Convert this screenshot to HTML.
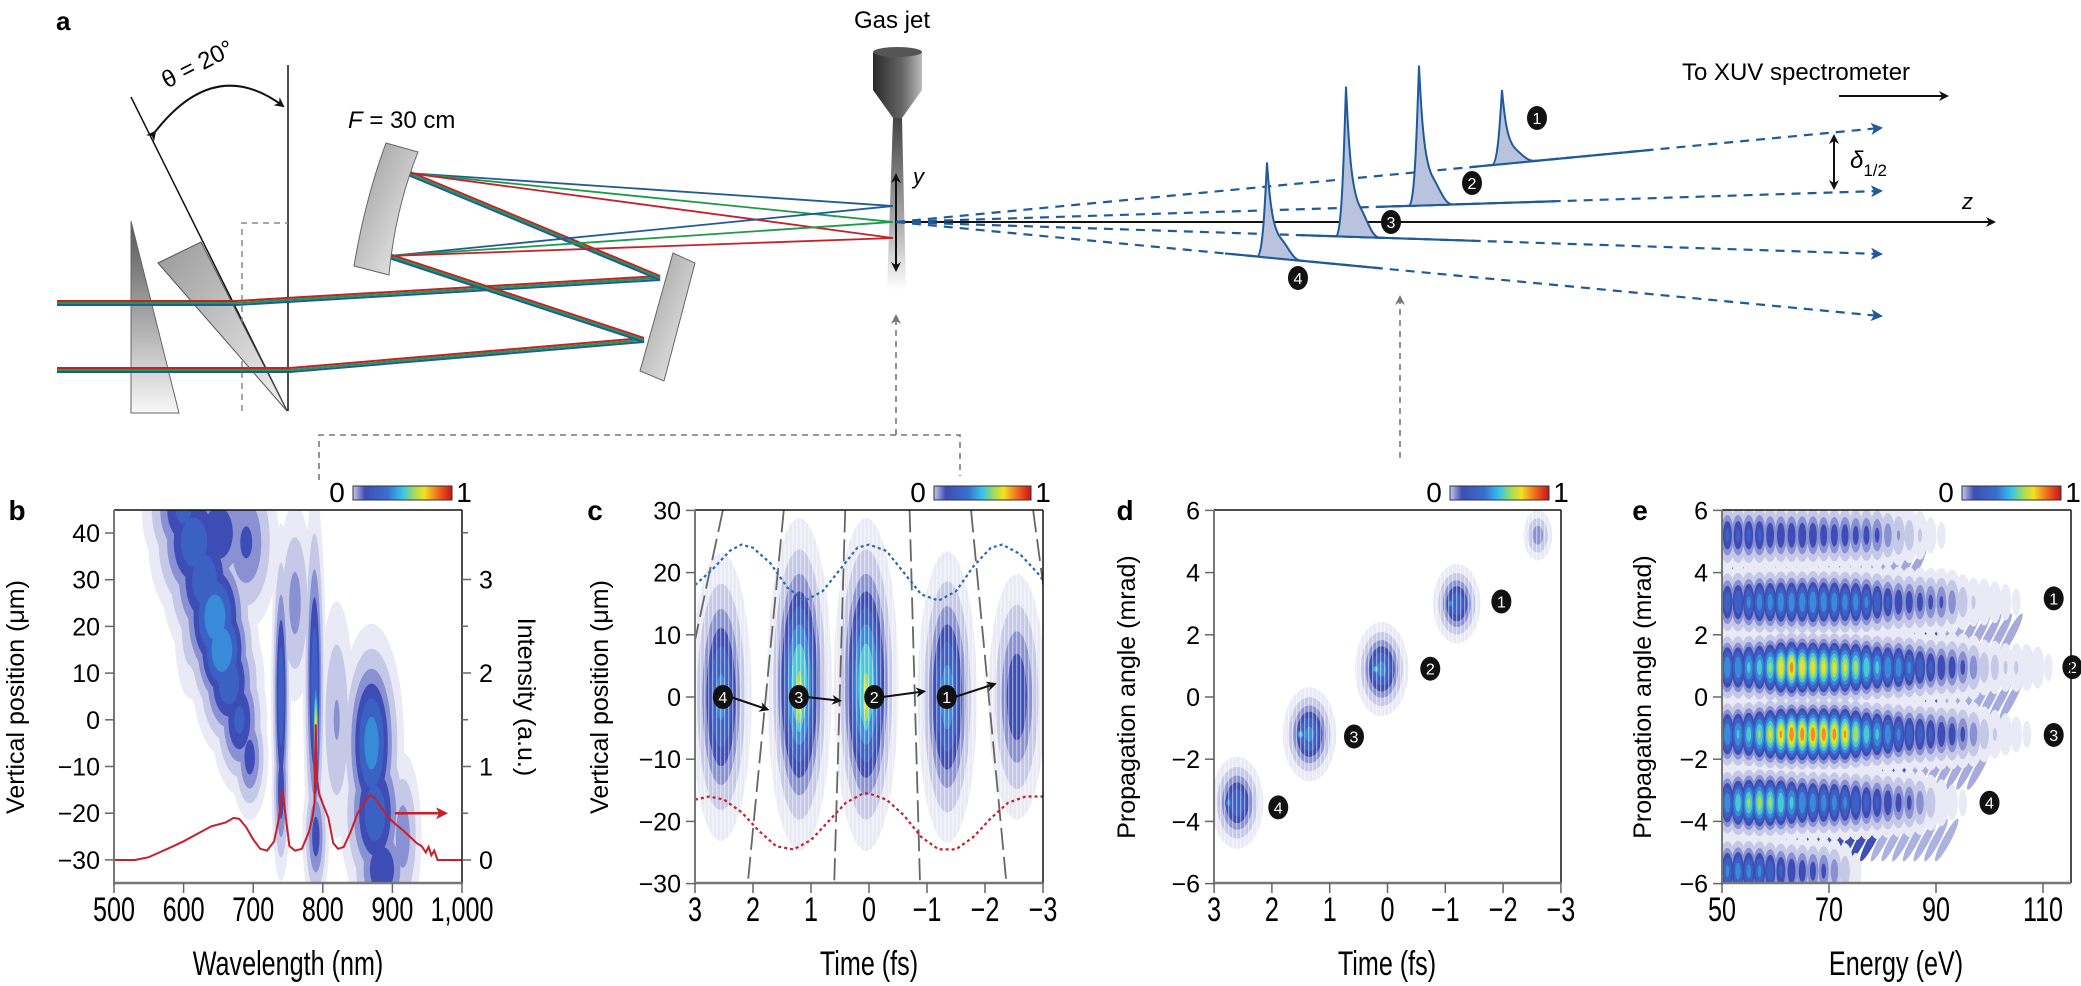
<!DOCTYPE html>
<html><head><meta charset="utf-8"><style>
html,body{margin:0;padding:0;background:#fff;}
svg{display:block;font-family:"Liberation Sans",sans-serif;}
</style></head><body>
<svg id="fig" width="2081" height="986" viewBox="0 0 2081 986" xmlns="http://www.w3.org/2000/svg">
<defs>
<linearGradient id="cbar" x1="0" x2="1" y1="0" y2="0">
<stop offset="0" stop-color="#c8c8e8"/><stop offset="0.12" stop-color="#3d4db5"/><stop offset="0.35" stop-color="#3a6fd0"/><stop offset="0.5" stop-color="#35c4ec"/><stop offset="0.62" stop-color="#a5dc5a"/><stop offset="0.72" stop-color="#f3e21e"/><stop offset="0.88" stop-color="#f05a1e"/><stop offset="1" stop-color="#c81414"/>
</linearGradient>
<linearGradient id="gray1" x1="0" x2="0" y1="0" y2="1"><stop offset="0" stop-color="#555"/><stop offset="1" stop-color="#f8f8f8"/></linearGradient>
<linearGradient id="gray2" x1="0" x2="1" y1="0" y2="1"><stop offset="0" stop-color="#999"/><stop offset="1" stop-color="#f2f2f2"/></linearGradient>
<linearGradient id="nozzle" x1="0" x2="1"><stop offset="0" stop-color="#2a2a2a"/><stop offset="0.6" stop-color="#666"/><stop offset="1" stop-color="#bbb"/></linearGradient>
<linearGradient id="jet" x1="0" x2="0" y1="0" y2="1"><stop offset="0" stop-color="#444"/><stop offset="0.6" stop-color="#aaa"/><stop offset="1" stop-color="#fff"/></linearGradient>
<pattern id="stripes" width="4" height="10" patternUnits="userSpaceOnUse"><rect x="0" y="0" width="1.3" height="10" fill="#fff" opacity="0.45"/></pattern>
<clipPath id="clipB"><rect x="114" y="510" width="348" height="373"/></clipPath>
<clipPath id="clipC"><rect x="695" y="510" width="348" height="373"/></clipPath>
<clipPath id="clipD"><rect x="1214" y="510" width="347" height="373"/></clipPath>
<clipPath id="clipE"><rect x="1722" y="510" width="349" height="373"/></clipPath>
<marker id="ah" markerWidth="10" markerHeight="10" refX="8" refY="5" orient="auto" markerUnits="userSpaceOnUse"><path d="M0,0 L10,5 L0,10 L3,5 Z" fill="#111"/></marker>
<marker id="ahb" markerWidth="12" markerHeight="12" refX="9" refY="6" orient="auto" markerUnits="userSpaceOnUse"><path d="M0,0 L12,6 L0,12 L3,6 Z" fill="#1f5a9a"/></marker>
<marker id="ahg" markerWidth="10" markerHeight="10" refX="8" refY="5" orient="auto" markerUnits="userSpaceOnUse"><path d="M0,0 L10,5 L0,10 L3,5 Z" fill="#777"/></marker>
<marker id="ahr" markerWidth="12" markerHeight="12" refX="9" refY="6" orient="auto" markerUnits="userSpaceOnUse"><path d="M0,0 L12,6 L0,12 L3,6 Z" fill="#c8202a"/></marker>
</defs>

<!-- ================= PANEL A ================= -->
<g>
<text x="56" y="30" font-size="26" font-weight="bold">a</text>
<text x="892" y="28" font-size="24" text-anchor="middle">Gas jet</text>
<g>
<rect x="873" y="52" width="49" height="38" fill="url(#nozzle)"/>
<ellipse cx="897.5" cy="52" rx="24.5" ry="5" fill="#555"/>
<path d="M873,90 L922,90 L902,118 L893,118 Z" fill="url(#nozzle)"/>
<path d="M893,118 L902,118 L906,290 L887,290 Z" fill="url(#jet)"/>
</g>
<g>
<line x1="131" y1="97" x2="287" y2="411" stroke="#111" stroke-width="1.5"/>
<line x1="288" y1="65" x2="288" y2="411" stroke="#111" stroke-width="1.5"/>
<path d="M155,132 Q215,55 283,106" fill="none" stroke="#111" stroke-width="2" marker-start="url(#ah)" marker-end="url(#ah)"/>
<text x="198" y="72" font-size="24" text-anchor="middle" transform="rotate(-27 198 65)">θ = 20°</text>
<path d="M242,411 L242,223 L288,223" fill="none" stroke="#888" stroke-width="1.5" stroke-dasharray="6,5"/>
</g>
<g><path d="M131,221 L179,413 L131,413 Z" fill="url(#gray1)" stroke="#666" stroke-width="1"/></g>
<g><path d="M158,263 L201,242 L287,411 Z" fill="url(#gray2)" stroke="#555" stroke-width="1"/></g>
<g>
<line x1="57" y1="301" x2="236" y2="301" stroke="#c8202a" stroke-width="2"/><line x1="57" y1="303" x2="236" y2="303" stroke="#1e9a4a" stroke-width="2"/><line x1="57" y1="305" x2="236" y2="305" stroke="#1f5a9a" stroke-width="2"/>
<line x1="57" y1="368" x2="290" y2="368" stroke="#c8202a" stroke-width="2"/><line x1="57" y1="370" x2="290" y2="370" stroke="#1e9a4a" stroke-width="2"/><line x1="57" y1="372" x2="290" y2="372" stroke="#1f5a9a" stroke-width="2"/>
</g>
<g fill="none" stroke-width="2">
<polyline points="236,301 660,276 408,171" stroke="#c8202a"/><polyline points="236,303 660,278 408,173" stroke="#1e9a4a"/><polyline points="236,305 660,280 408,175" stroke="#1f5a9a"/>
<polyline points="290,368 644,338 389,254" stroke="#c8202a"/><polyline points="290,370 644,340 389,256" stroke="#1e9a4a"/><polyline points="290,372 644,342 389,258" stroke="#1f5a9a"/>
</g>
<g fill="none" stroke-width="1.8">
<line x1="408" y1="173" x2="893" y2="206" stroke="#1f5a9a"/><line x1="408" y1="173" x2="893" y2="222" stroke="#1e9a4a"/><line x1="408" y1="173" x2="893" y2="238" stroke="#c8202a"/>
<line x1="389" y1="256" x2="893" y2="206" stroke="#1f5a9a"/><line x1="389" y1="256" x2="893" y2="222" stroke="#1e9a4a"/><line x1="389" y1="256" x2="893" y2="238" stroke="#c8202a"/>
</g>
<g><path d="M386,143 L418,152 Q395,210 389,275 L354,266 Q365,200 386,143 Z" fill="url(#gray2)" stroke="#666"/></g>
<g><path d="M673,253 L695,263 L664,381 L640,371 Z" fill="url(#gray2)" stroke="#666"/></g>
<text x="348" y="128" font-size="24"><tspan font-style="italic">F</tspan> = 30 cm</text>
<g>
<line x1="896" y1="222" x2="896" y2="175" stroke="#111" stroke-width="2" marker-end="url(#ah)"/>
<line x1="896" y1="222" x2="896" y2="270" stroke="#111" stroke-width="2" marker-end="url(#ah)"/>
<text x="913" y="184" font-size="22" font-style="italic">y</text>
</g>
<g>
<line x1="896" y1="222" x2="1994" y2="222" stroke="#111" stroke-width="2" marker-end="url(#ah)"/>
<text x="1962" y="209" font-size="22" font-style="italic">z</text>
</g>
<text x="1796" y="80" font-size="24" text-anchor="middle">To XUV spectrometer</text>
<line x1="1839" y1="96" x2="1947" y2="96" stroke="#111" stroke-width="2" marker-end="url(#ah)"/>
<g>
<line x1="1834" y1="160" x2="1834" y2="136" stroke="#111" stroke-width="2" marker-end="url(#ah)"/>
<line x1="1834" y1="160" x2="1834" y2="188" stroke="#111" stroke-width="2" marker-end="url(#ah)"/>
<text x="1850" y="168" font-size="24" font-style="italic">δ<tspan font-size="17" dy="8" font-style="normal">1/2</tspan></text>
</g>
<g id="beams"></g>
<g fill="none" stroke="#777" stroke-width="1.6" stroke-dasharray="6,5">
<path d="M319,480 L319,435 L960,435 L960,476"/>
<line x1="896" y1="435" x2="896" y2="316" marker-end="url(#ahg)"/>
<line x1="1400" y1="458" x2="1400" y2="297" marker-end="url(#ahg)"/>
</g>
</g>

<g id="pb"></g>
<g id="pc"></g>
<g id="pd"></g>
<g id="pe"></g>
</svg>
<script>
// ---------------- DATA ----------------
// Panel b blobs: wavelength nm, position µm, sigma nm, sigma µm, amplitude
const bBlobW   = [600, 615, 630, 645, 655, 665, 680, 695, 690, 740, 740, 788, 790, 791, 790, 760, 870, 875, 885, 915, 610, 820, 650];
const bBlobY   = [45, 38, 30, 22, 15, 8, 0, -8, 38, 5, -15, 8, -3, -6, -25, 25, -5, -20, -32, -25, 20, 0, 40];
const bBlobSW  = [30, 32, 30, 28, 25, 25, 20, 14, 25, 7, 7, 8, 3, 2, 10, 15, 22, 25, 25, 15, 15, 15, 30];
const bBlobSY  = [8, 9, 9, 9, 8, 8, 8, 7, 10, 18, 10, 20, 9, 5, 8, 12, 12, 10, 7, 10, 10, 15, 8];
const bBlobA   = [0.45, 0.5, 0.5, 0.6, 0.62, 0.5, 0.45, 0.38, 0.35, 0.5, 0.4, 0.5, 0.9, 0.98, 0.38, 0.28, 0.58, 0.5, 0.42, 0.3, 0.2, 0.25, 0.42];
// Panel b red spectrum
const specW = [500,530,550,565,580,600,620,640,660,672,680,690,700,710,720,730,737,742,747,752,760,770,780,785,788,790,792,795,800,808,815,822,830,840,850,860,868,875,885,895,905,915,925,935,942,948,952,956,960,965,980,1000];
const specI = [0,0,0.03,0.08,0.13,0.2,0.28,0.36,0.4,0.45,0.44,0.35,0.22,0.12,0.1,0.2,0.45,0.76,0.45,0.15,0.1,0.12,0.3,0.45,0.6,1.45,0.85,0.7,0.6,0.45,0.18,0.12,0.14,0.3,0.5,0.62,0.7,0.66,0.55,0.45,0.38,0.32,0.25,0.18,0.15,0.08,0.14,0.05,0.1,0,0,0];
const bXTicks = [500,600,700,800,900,1000];
const bXTickLabels = ["500","600","700","800","900","1,000"];
const bYTicks = [40,30,20,10,0,-10,-20,-30];
const bRTicks = [0,1,2,3];

// Panel c
const cBlobT  = [2.55, 1.2, 0.05, -1.35, -2.55, 1.2, 0.05];
const cBlobY  = [0, 2, 2, 0, 0, 0, 0];
const cBlobST = [0.25, 0.25, 0.25, 0.24, 0.25, 0.1, 0.1];
const cBlobSY = [11, 12, 12, 11, 10, 7, 7];
const cBlobA  = [0.55, 0.72, 0.72, 0.58, 0.42, 0.86, 0.84];
const cBlueT = [3,2.7,2.4,2.2,2.0,1.7,1.4,1.1,0.8,0.5,0.2,0,-0.3,-0.6,-0.9,-1.2,-1.5,-1.8,-2.1,-2.3,-2.6,-2.9,-3];
const cBlueY = [18,20.5,23.5,24.5,24,21.5,17.5,15.5,17,20.5,24,24.5,23.5,20,16.5,15.5,17,21,24,24.5,23,20,18.8];
const cRedT = [3,2.75,2.5,2.2,1.9,1.6,1.3,1.0,0.7,0.4,0.1,0,-0.3,-0.6,-0.9,-1.2,-1.5,-1.8,-2.1,-2.4,-2.7,-3];
const cRedY = [-16.5,-16,-16.5,-18.5,-21.5,-24,-24.5,-23,-20,-17,-15.5,-15.5,-16.5,-19,-22.5,-24.5,-24.5,-22.5,-19.5,-17,-16,-16];
const cGuideTopT = [2.52, 1.47, 0.41, -0.70, -1.76, -2.83];
const cGuideBotT = [3.9, 2.09, 0.60, -0.88, -2.37, -3.7];
const cMarkT = [2.52, 1.21, -0.09, -1.34];
const cMarkLabels = ["4","3","2","1"];
const cArrowEndT = [1.75, 0.5, -0.95, -2.17];
const cArrowEndY = [-2, -0.6, 0.9, 2.1];
const cXTicks = [3,2,1,0,-1,-2,-3];
const cYTicks = [30,20,10,0,-10,-20,-30];

// Panel d
const dBlobT  = [2.6, 1.35, 0.1, -1.2, -2.6, 2.75, 1.5, 0.2, -1.1];
const dBlobA2 = [-3.4, -1.2, 0.9, 3.0, 5.2, -3.4, -1.2, 0.9, 3.0];
const dBlobST = [0.22, 0.22, 0.22, 0.2, 0.14, 0.06, 0.06, 0.06, 0.06];
const dBlobSA = [0.72, 0.72, 0.72, 0.62, 0.45, 0.15, 0.15, 0.15, 0.15];
const dBlobAmp= [0.5, 0.55, 0.55, 0.5, 0.3, 0.62, 0.72, 0.72, 0.6];
const dMarkT = [1.89, 0.58, -0.74, -1.97];
const dMarkA = [-3.55, -1.27, 0.91, 3.07];
const dMarkLabels = ["4","3","2","1"];
const dXTicks = [3,2,1,0,-1,-2,-3];
const dYTicks = [6,4,2,0,-2,-4,-6];

// Panel e
const eEnergies = [51,53,55,57,59,61,63,65,67,69,71,73,75,77,79,81,83,85,87,89,91,93,95,97,99,101,103,105,107,109,111,113];
const eRowAngle = [5.2, 3.05, 0.95, -1.2, -3.4, -5.6];
const eRow0 = [.45,.45,.45,.45,.42,.42,.42,.42,.42,.4,.4,.4,.38,.38,.36,.3,.25,.2,.15,.1,.08,0,0,0,0,0,0,0,0,0,0,0];
const eRow1 = [.5,.52,.55,.58,.58,.6,.6,.6,.62,.6,.6,.58,.58,.55,.5,.45,.42,.4,.38,.36,.35,.3,.2,.15,.14,.12,.1,.08,0,0,0,0];
const eRow2 = [.62,.62,.65,.68,.75,.88,.92,.88,.86,.85,.84,.82,.78,.72,.66,.62,.6,.55,.5,.45,.42,.4,.36,.3,.2,.18,.15,.15,.14,.12,.08,0];
const eRow3 = [.62,.64,.68,.74,.82,.9,.95,.94,.95,.94,.93,.9,.8,.7,.65,.6,.55,.5,.48,.45,.42,.4,.36,.3,.2,.15,.12,.1,.08,0,0,0];
const eRow4 = [.6,.7,.75,.78,.76,.72,.66,.62,.6,.58,.57,.55,.52,.48,.45,.42,.38,.36,.3,.2,.14,.1,.08,0,0,0,0,0,0,0,0,0];
const eRow5 = [.55,.58,.56,.55,.5,.45,.42,.4,.38,.36,.3,.2,.1,0,0,0,0,0,0,0,0,0,0,0,0,0,0,0,0,0,0,0];
const eStreakAngle = [4.1, 2.0, -0.1, -2.3, -4.6];
const eStreakMaxE = [86, 104, 104, 98, 92];
const eStreakAmp = [0.38, 0.36, 0.36, 0.36, 0.34];
const eMarkE = [112, 115.5, 112, 100];
const eMarkA = [3.17, 0.96, -1.22, -3.4];
const eMarkLabels = ["1","2","3","4"];
const eXTicks = [50,70,90,110];
const eYTicks = [6,4,2,0,-2,-4,-6];

// Panel a
const beamEndY = [128, 191, 254, 316];
const pulsePeakX = [1502, 1419, 1346, 1267];
const pulseHeight = [74, 140, 150, 95];
const beamSolidX0 = [1470, 1380, 1300, 1225];
const beamSolidX1 = [1650, 1555, 1475, 1380];
const beamLabelX = [1537, 1472, 1391, 1298];
const beamLabelY = [118, 183, 222, 278];

// ---------------- HELPERS ----------------
const NS = "http://www.w3.org/2000/svg";
function mk(tag, attrs, parent){ const e=document.createElementNS(NS,tag); for(const k in attrs) e.setAttribute(k,attrs[k]); parent.appendChild(e); return e; }
const cmStops=[[0,[255,255,255]],[0.1,[220,220,240]],[0.22,[154,160,216]],[0.33,[61,77,181]],[0.48,[58,111,208]],[0.6,[53,196,236]],[0.72,[165,220,90]],[0.82,[243,226,30]],[0.92,[240,90,30]],[1,[200,20,20]]];
function cmap(v){ for(let i=1;i<cmStops.length;i++){ if(v<=cmStops[i][0]){ const a=cmStops[i-1],b=cmStops[i],f=(v-a[0])/(b[0]-a[0]); const c=a[1].map((x,j)=>Math.round(x+(b[1][j]-x)*f)); return `rgb(${c[0]},${c[1]},${c[2]})`; } } return "rgb(200,20,20)"; }
const LEVELS=[0.06,0.14,0.24,0.33,0.42,0.52,0.62,0.72,0.8,0.88,0.95];
function drawBlobs(g, xs, ys, sxs, sys, amps, X, Y, kx, ky, name){
  for(const l of LEVELS){
    for(let i=0;i<xs.length;i++){
      if(amps[i]<=l) continue;
      const k=Math.sqrt(2*Math.log(amps[i]/l));
      const el=mk("ellipse",{cx:X(xs[i]),cy:Y(ys[i]),rx:Math.abs(sxs[i]*kx)*k,ry:Math.abs(sys[i]*ky)*k,fill:cmap(l)},g);
      
      
    }
  }
}
function txt(parent,x,y,s,size,anchor,extra){ const t=mk("text",Object.assign({x:x,y:y,"font-size":size,"text-anchor":anchor||"middle"},extra||{}),parent); t.textContent=s; return t; }
function condText(parent,x,y,s,size){ const t=mk("text",{x:0,y:0,"font-size":size,"text-anchor":"middle",transform:`translate(${x} ${y}) scale(0.74 1)`},parent); t.textContent=s; return t; }
function marker(parent,x,y,label){
  const g=mk("g",{},parent);
  
  
  mk("ellipse",{cx:x,cy:y,rx:10,ry:12,fill:"#111"},g);
  txt(g,x,y+6,label,16,"middle",{fill:"#fff"}); return g;
}
function frame(g,L,T,R,B){
  mk("line",{x1:L,y1:T,x2:R,y2:T,stroke:"#111","stroke-width":1.5},g);
  mk("line",{x1:R,y1:T,x2:R,y2:B,stroke:"#111","stroke-width":1.5},g);
  mk("line",{x1:L,y1:T,x2:L,y2:B+2,stroke:"#777","stroke-width":2},g);
  mk("line",{x1:L-1,y1:B,x2:R,y2:B,stroke:"#777","stroke-width":2.5},g);
}
function colorbar(g,x0,x1,y,name){
  const cb=mk("g",{},g);
  
  
  mk("rect",{x:x0,y:y,width:x1-x0,height:14,fill:"url(#cbar)",stroke:"#333","stroke-width":1},cb);
  txt(cb,x0-16,y+16,"0",28); txt(cb,x1+12,y+16,"1",28);
}

// ---------------- PANEL A beams ----------------
(function(){
  const g=document.getElementById("beams");
  const fx=896, fy=222, ex=1880;
  for(let i=0;i<beamEndY.length;i++){
    const yAt=x=>fy+(beamEndY[i]-fy)*(x-fx)/(ex-fx);
    const l=mk("line",{x1:fx,y1:fy,x2:ex,y2:beamEndY[i],stroke:"#1f5a9a","stroke-width":2.2,"stroke-dasharray":"9,7","marker-end":"url(#ahb)"},g);
    
    
    const s=mk("line",{x1:beamSolidX0[i],y1:yAt(beamSolidX0[i]),x2:beamSolidX1[i],y2:yAt(beamSolidX1[i]),stroke:"#1f5a9a","stroke-width":2.2},g);
    
    
    const px=pulsePeakX[i], by=yAt(px), h=pulseHeight[i];
    const d=`M${px-10},${yAt(px-10)} C${px-4},${yAt(px-4)} ${px-2},${by-h*0.6} ${px},${by-h} C${px+3},${by-h*0.55} ${px+6},${by-h*0.3} ${px+14},${by-h*0.2} C${px+22},${by-h*0.1} ${px+26},${yAt(px+28)} ${px+34},${yAt(px+34)} Z`;
    const p=mk("path",{d:d,fill:"#b9c3dd",stroke:"#1f5a9a","stroke-width":2},g);
    
    
    marker(g,beamLabelX[i],beamLabelY[i],String(i+1));
  }
})();

// ---------------- PANEL B ----------------
(function(){
  const g=document.getElementById("pb");
  const L=114,R=462,T=510,B=883;
  const X=w=>L+(w-500)/500*(R-L), Y=v=>533+(40-v)*4.67, YI=i=>860-i*93.5;
  txt(g,17,520,"b",28,"middle",{"font-weight":"bold"});
  const hg=mk("g",{"clip-path":"url(#clipB)"},g);
  
  
  drawBlobs(hg,bBlobW,bBlobY,bBlobSW,bBlobSY,bBlobA,X,Y,(R-L)/500,4.67,'b-heatmap-contour');
  const pts=specW.map((w,i)=>`${X(w).toFixed(1)},${YI(specI[i]).toFixed(1)}`).join(" ");
  const sp=mk("polyline",{points:pts,fill:"none",stroke:"#c8202a","stroke-width":2},hg);
  
  
  const ar=mk("line",{x1:395,y1:YI(0.5),x2:445,y2:YI(0.5),stroke:"#c8202a","stroke-width":2.5,"marker-end":"url(#ahr)"},g);
  
  
  frame(g,L,T,R,B);
  bXTicks.forEach((v,i)=>{ mk("line",{x1:X(v),y1:B,x2:X(v),y2:B+10,stroke:"#666","stroke-width":1.5},g); const t=condText(g,X(v),B+38,bXTickLabels[i],34);   });
  bYTicks.forEach(v=>{ mk("line",{x1:L-9,y1:Y(v),x2:L,y2:Y(v),stroke:"#666","stroke-width":1.5},g); txt(g,L-14,Y(v)+9,String(v).replace("-","−"),25,"end"); });
  bRTicks.forEach(v=>{ mk("line",{x1:R,y1:YI(v),x2:R+9,y2:YI(v),stroke:"#666","stroke-width":1.5},g); mk("line",{x1:R,y1:YI(v+0.5),x2:R+6,y2:YI(v+0.5),stroke:"#666","stroke-width":1.5},g); txt(g,R+24,YI(v)+9,String(v),25,"middle"); });
  const xt=condText(g,288,975,"Wavelength (nm)",34);  
  const yt=txt(g,0,0,"Vertical position (μm)",25,"middle",{transform:"translate(24 697) rotate(-90)"});  
  const rt=txt(g,0,0,"Intensity (a.u.)",25,"middle",{transform:"translate(518 697) rotate(90)"});  
  colorbar(g,353,452,486,'b-colorbar');
})();

// ---------------- PANEL C ----------------
(function(){
  const g=document.getElementById("pc");
  const L=695,R=1043,T=510,B=883;
  const X=t=>869-t*58, Y=v=>697-v*6.22;
  txt(g,595,520,"c",28,"middle",{"font-weight":"bold"});
  const hg=mk("g",{"clip-path":"url(#clipC)"},g);
  
  
  drawBlobs(hg,cBlobT,cBlobY,cBlobST,cBlobSY,cBlobA,X,Y,58,6.22,'c-heatmap-contour');
  mk("rect",{x:L,y:T,width:R-L,height:B-T,fill:"url(#stripes)"},hg);
  cGuideTopT.forEach((t,i)=>{ const l=mk("line",{x1:X(t),y1:Y(30),x2:X(cGuideBotT[i]),y2:Y(-30),stroke:"#666","stroke-width":1.8,"stroke-dasharray":"22,7"},hg);   });
  const bl=mk("polyline",{points:cBlueT.map((t,i)=>`${X(t)},${Y(cBlueY[i])}`).join(" "),fill:"none",stroke:"#2a6ab0","stroke-width":2.2,"stroke-dasharray":"3,3"},hg);
  
  
  const rl=mk("polyline",{points:cRedT.map((t,i)=>`${X(t)},${Y(cRedY[i])}`).join(" "),fill:"none",stroke:"#c8202a","stroke-width":2.2,"stroke-dasharray":"3,3"},hg);
  
  
  cMarkT.forEach((t,i)=>{ const a=mk("line",{x1:X(t)+8,y1:Y(0),x2:X(cArrowEndT[i]),y2:Y(cArrowEndY[i]),stroke:"#111","stroke-width":2,"marker-end":"url(#ah)"},g);   marker(g,X(t),Y(0),cMarkLabels[i]); });
  frame(g,L,T,R,B);
  cXTicks.forEach(v=>{ mk("line",{x1:X(v),y1:B,x2:X(v),y2:B+10,stroke:"#666","stroke-width":1.5},g); const t=condText(g,X(v),B+38,String(v).replace("-","−"),34);   });
  cYTicks.forEach(v=>{ mk("line",{x1:L-9,y1:Y(v),x2:L,y2:Y(v),stroke:"#666","stroke-width":1.5},g); txt(g,L-14,Y(v)+9,String(v).replace("-","−"),25,"end"); });
  const xt=condText(g,869,975,"Time (fs)",34);  
  const yt=txt(g,0,0,"Vertical position (μm)",25,"middle",{transform:"translate(608 697) rotate(-90)"});  
  colorbar(g,934,1031,486,'c-colorbar');
})();

// ---------------- PANEL D ----------------
(function(){
  const g=document.getElementById("pd");
  const L=1214,R=1561,T=510,B=883;
  const X=t=>1387.5-t*57.8, Y=a=>697-a*31.1;
  txt(g,1125,520,"d",28,"middle",{"font-weight":"bold"});
  const hg=mk("g",{"clip-path":"url(#clipD)"},g);
  
  
  drawBlobs(hg,dBlobT,dBlobA2,dBlobST,dBlobSA,dBlobAmp,X,Y,57.8,31.1,'d-heatmap-contour');
  mk("rect",{x:L,y:T,width:R-L,height:B-T,fill:"url(#stripes)"},hg);
  dMarkT.forEach((t,i)=>marker(g,X(t),Y(dMarkA[i]),dMarkLabels[i]));
  frame(g,L,T,R,B);
  dXTicks.forEach(v=>{ mk("line",{x1:X(v),y1:B,x2:X(v),y2:B+10,stroke:"#666","stroke-width":1.5},g); const t=condText(g,X(v),B+38,String(v).replace("-","−"),34);   });
  dYTicks.forEach(v=>{ mk("line",{x1:L-9,y1:Y(v),x2:L,y2:Y(v),stroke:"#666","stroke-width":1.5},g); txt(g,L-14,Y(v)+9,String(v).replace("-","−"),25,"end"); });
  const xt=condText(g,1387,975,"Time (fs)",34);  
  const yt=txt(g,0,0,"Propagation angle (mrad)",25,"middle",{transform:"translate(1135 697) rotate(-90)"});  
  colorbar(g,1450,1549,486,'d-colorbar');
})();

// ---------------- PANEL E ----------------
(function(){
  const g=document.getElementById("pe");
  const L=1722,R=2071,T=510,B=883;
  const X=E=>1722+(E-50)*5.35, Y=a=>697-a*31.1;
  txt(g,1640,520,"e",28,"middle",{"font-weight":"bold"});
  const hg=mk("g",{"clip-path":"url(#clipE)"},g);
  
  
  const lb=mk("rect",{x:L,y:T,width:14,height:B-T,fill:cmap(0.3)},hg);
  
  
  eStreakAngle.forEach((a,r)=>{
    eEnergies.forEach(E=>{
      if(E>eStreakMaxE[r]) return;
      const amp=eStreakAmp[r]*(E<eStreakMaxE[r]-14?1:0.55);
      const s=mk("ellipse",{cx:X(E+1),cy:Y(a),rx:4,ry:24,fill:cmap(amp),transform:`rotate(28 ${X(E+1)} ${Y(a)})`},hg);
      
      
    });
  });
  const rows=[eRow0,eRow1,eRow2,eRow3,eRow4,eRow5];
  const xs=[],ys=[],sx=[],sy=[],am=[];
  rows.forEach((row,r)=>row.forEach((v,k)=>{ if(v>0){ xs.push(eEnergies[k]); ys.push(eRowAngle[r]); sx.push(1.05); sy.push(0.58); am.push(v);} }));
  drawBlobs(hg,xs,ys,sx,sy,am,X,Y,5.35,31.1,'e-harmonic-spot');
  eMarkE.forEach((E,i)=>marker(g,X(E),Y(eMarkA[i]),eMarkLabels[i]));
  frame(g,L,T,R,B);
  eXTicks.forEach(v=>{ mk("line",{x1:X(v),y1:B,x2:X(v),y2:B+10,stroke:"#666","stroke-width":1.5},g); const t=condText(g,X(v),B+38,String(v),34);   });
  eYTicks.forEach(v=>{ mk("line",{x1:L-9,y1:Y(v),x2:L,y2:Y(v),stroke:"#666","stroke-width":1.5},g); txt(g,L-14,Y(v)+9,String(v).replace("-","−"),25,"end"); });
  const xt=condText(g,1896,975,"Energy (eV)",34);  
  const yt=txt(g,0,0,"Propagation angle (mrad)",25,"middle",{transform:"translate(1651 697) rotate(-90)"});  
  colorbar(g,1962,2061,486,'e-colorbar');
})();
</script>
</body></html>
